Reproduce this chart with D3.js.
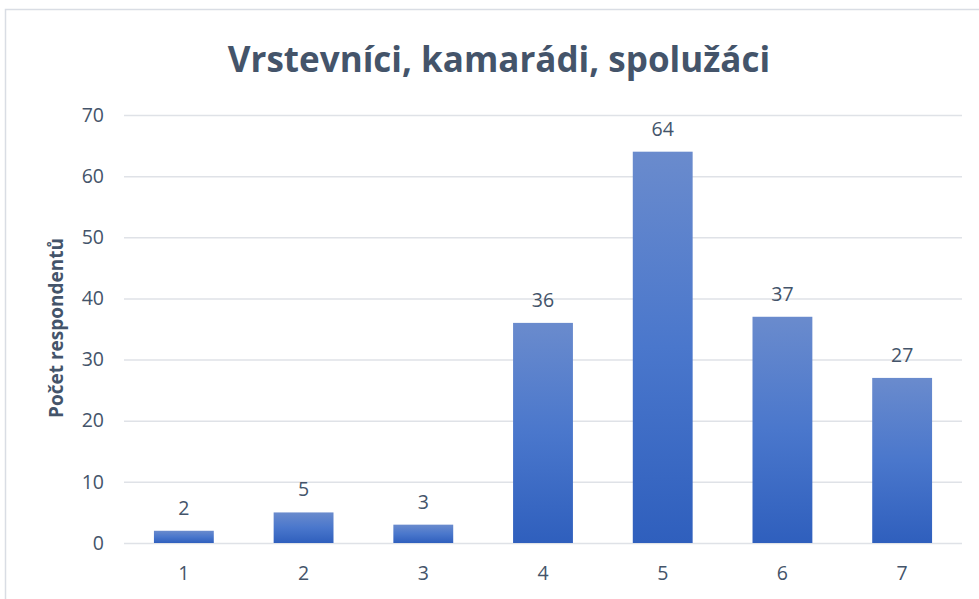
<!DOCTYPE html>
<html>
<head>
<meta charset="utf-8">
<script src="https://cdn.jsdelivr.net/npm/d3@7"></script>
<style>
  body { margin: 0; background: #fff; }
  svg text { font-family: "Open Sans", "Noto Sans", sans-serif; }
</style>
</head>
<body>
<div id="chart"></div>
<script>
// data
const categories = ["1", "2", "3", "4", "5", "6", "7"];
const values = [2, 5, 3, 36, 64, 37, 27];
const yTicks = [0, 10, 20, 30, 40, 50, 60, 70];
const title = "Vrstevníci, kamarádi, spolužáci";
const yLabel = "Počet respondentů";

const W = 979, H = 599;
const margin = {top: 115, right: 17, bottom: 56, left: 124};
const w = W - margin.left - margin.right,
      h = H - margin.top - margin.bottom;
const textCol = "#44546a";

const svg = d3.select("#chart").append("svg")
  .attr("width", W).attr("height", H);

// chart frame
svg.append("rect")
  .attr("x", 5.5).attr("y", 9.5)
  .attr("width", 1000).attr("height", 700)
  .attr("fill", "none").attr("stroke", "#d9dde4").attr("stroke-width", 1.5);

const defs = svg.append("defs");
const grad = defs.append("linearGradient")
  .attr("id", "barGrad").attr("x1", 0).attr("y1", 0).attr("x2", 0).attr("y2", 1);
grad.append("stop").attr("offset", "0%").attr("stop-color", "#6a8bcd");
grad.append("stop").attr("offset", "50%").attr("stop-color", "#4a77cc");
grad.append("stop").attr("offset", "100%").attr("stop-color", "#2f5fbd");

const g = svg.append("g").attr("transform", `translate(${margin.left},${margin.top})`);

const x = d3.scaleBand().domain(categories).range([0, w]).paddingInner(0.5).paddingOuter(0.25);
const y = d3.scaleLinear().domain([0, 70]).range([h, 0]);

// gridlines
g.append("g")
  .call(d3.axisLeft(y).tickValues(yTicks).tickSize(-w).tickFormat(""))
  .call(s => s.select(".domain").remove())
  .call(s => s.selectAll("line").attr("stroke", "#dfe2e7").attr("stroke-width", 1.5));

// y tick labels
g.append("g")
  .call(d3.axisLeft(y).tickValues(yTicks).tickSize(0).tickPadding(20))
  .call(s => s.select(".domain").remove())
  .selectAll("text")
  .attr("fill", textCol).attr("font-size", 19.5);

// x tick labels
g.append("g").attr("transform", `translate(0,${h})`)
  .call(d3.axisBottom(x).tickSize(0).tickPadding(23))
  .call(s => s.select(".domain").remove())
  .selectAll("text")
  .attr("fill", textCol).attr("font-size", 19.5);

// bars
g.selectAll(".bar").data(values).enter().append("rect")
  .attr("class", "bar")
  .attr("x", (d, i) => x(categories[i]))
  .attr("width", x.bandwidth())
  .attr("y", d => y(d))
  .attr("height", d => h - y(d))
  .attr("fill", "url(#barGrad)");

// data labels
g.selectAll(".lbl").data(values).enter().append("text")
  .attr("class", "lbl")
  .attr("x", (d, i) => x(categories[i]) + x.bandwidth() / 2)
  .attr("y", d => y(d) - 16)
  .attr("text-anchor", "middle")
  .attr("fill", textCol).attr("font-size", 19.5)
  .text(d => d);

// title
svg.append("text")
  .attr("x", 499).attr("y", 72)
  .attr("text-anchor", "middle")
  .attr("fill", textCol).attr("font-size", 35).attr("font-weight", "bold")
  .text(title);

// y axis label
svg.append("text")
  .attr("transform", "translate(63,328) rotate(-90)")
  .attr("text-anchor", "middle")
  .attr("fill", textCol).attr("font-size", 19).attr("font-weight", "bold")
  .text(yLabel);
</script>
</body>
</html>
